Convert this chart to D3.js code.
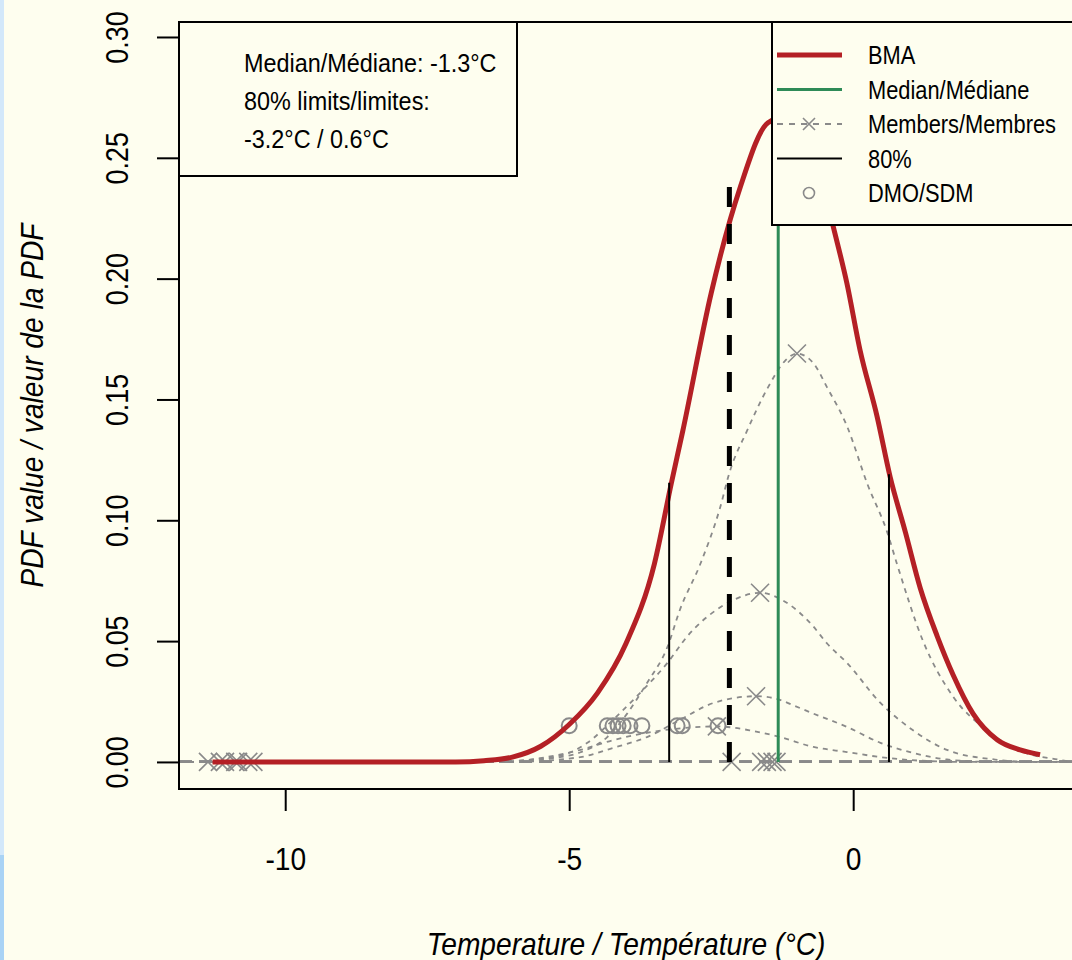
<!DOCTYPE html>
<html>
<head>
<meta charset="utf-8">
<script src="https://cdn.jsdelivr.net/npm/d3@7"></script>
<style>
  body { margin: 0; background: #fefeef; }
  svg { display: block; }
  text { font-family: "Liberation Sans", Arial, sans-serif; fill: #000; }
</style>
</head>
<body>
<svg width="1072" height="960"></svg>
<script>
// ---- data ----
var bmaCurve = [[-11.28,0],[-7,0],[-6.5,0.0005],[-6,0.002],[-5.5,0.0065],[-5,0.0155],[-4.5,0.0286],
  [-4,0.049],[-3.5,0.082],[-3.2,0.1155],[-3,0.137],[-2.5,0.194],[-2,0.237],[-1.5,0.2645],[-1.2,0.267],
  [-1.0,0.266],[-0.8,0.259],[-0.6,0.245],[-0.35,0.2214],[-0.11,0.198],[0.12,0.1705],[0.42,0.143],
  [0.65,0.118],[0.92,0.095],[1.18,0.072],[1.48,0.052],[1.76,0.036],[2.11,0.020],[2.54,0.0091],
  [2.94,0.005],[3.29,0.003]];

var memberA = [[-11.87,0],[-6,0],[-5.3,0.0015],[-4.8,0.004],[-4.33,0.0103],[-3.98,0.020],[-3.63,0.0327],
  [-3.27,0.0476],[-3.05,0.063],[-2.69,0.082],[-2.34,0.1055],[-2.18,0.1196],[-1.87,0.137],[-1.5,0.155],
  [-1.2,0.166],[-0.99,0.169],[-0.7,0.165],[-0.46,0.155],[-0.11,0.139],[0.25,0.115],[0.6,0.095],
  [0.77,0.082],[1.23,0.050],[1.76,0.027],[2.36,0.013],[3,0.004],[3.6,0.001],[3.87,0]];
var memberB = [[-11.87,0],[-6.5,0],[-5.28,0.002],[-4.68,0.0079],[-4.23,0.0174],[-3.75,0.0286],
  [-3.27,0.041],[-2.92,0.052],[-2.34,0.064],[-2.11,0.067],[-1.64,0.070],[-1.25,0.067],[-0.7,0.056],
  [-0.46,0.049],[-0.11,0.041],[0.48,0.0244],[1.06,0.013],[1.65,0.005],[2.5,0.001],[3.2,0],[3.87,0]];
var memberC = [[-11.87,0],[-6,0],[-4.8,0.002],[-4.23,0.0058],[-3.63,0.0103],[-3.05,0.0174],
  [-2.46,0.0244],[-1.71,0.0272],[-1.29,0.0257],[-1.06,0.0235],[-0.7,0.020],[-0.11,0.0145],
  [0.48,0.0079],[1.06,0.0037],[1.65,0.001],[2.5,0],[3.87,0]];
var memberD = [[-11.87,0],[-6.2,0],[-5.4,0.002],[-4.8,0.005],[-4.23,0.009],[-3.52,0.0125],
  [-2.9,0.0142],[-2.4,0.0147],[-1.8,0.013],[-1.29,0.0103],[-0.7,0.0062],[-0.11,0.0041],
  [0.48,0.002],[1.2,0.0005],[2,0],[3.87,0]];
var memberCurves = [memberA, memberB, memberC, memberD];
var memberPeaks = [[-0.99,0.169],[-1.64,0.070],[-1.71,0.0272],[-2.4,0.0147]];
var zeroMembers = [-11.36,-11.15,-11.06,-10.88,-10.83,-10.65,-10.56,-2.14,-1.62,-1.52,-1.42,-1.35];

var dmoValues = [-5.0,-4.33,-4.23,-4.14,-4.05,-3.93,-3.72,-3.1,-3.01,-2.38];
var dmoLevel = 0.015;

var medianValue = -1.32, medianTop = 0.265;
var limitLow = -3.24, limitLowTop = 0.1155;
var limitHigh = 0.63, limitHighTop = 0.119;
var obsValue = -2.18, obsTop = 0.242;

var xTicks = [-10, -5, 0];
var yTicks = [0, 0.05, 0.10, 0.15, 0.20, 0.25, 0.30];
var xDomain = [-11.87, 3.87];
var yDomain = [-0.0112, 0.3062];

var infoLines = ["Median/Médiane: -1.3°C", "80% limits/limites:", "-3.2°C / 0.6°C"];
var legendLabels = ["BMA", "Median/Médiane", "Members/Membres", "80%", "DMO/SDM"];
var xTitle = "Temperature / Température (°C)";
var yTitle = "PDF value / valeur de la PDF";

// ---- drawing ----
var svg = d3.select("svg"),
    pLeft = 179, pRight = 1073, pTop = 22, pBottom = 789,
    sx = 0.88;   // narrow glyphs like the original device font

var grey = "#8a8a8a", red = "#b42025", green = "#2e8b57";

svg.append("rect").attr("x", 0).attr("y", 0).attr("width", 1072).attr("height", 960).attr("fill", "#fefeef");
svg.append("rect").attr("x", 0).attr("y", 0).attr("width", 4).attr("height", 960).attr("fill", "#d3e8fa");
svg.append("rect").attr("x", 0).attr("y", 855).attr("width", 4).attr("height", 105).attr("fill", "#a9d3f5");

var x = d3.scaleLinear().domain(xDomain).range([pLeft, pRight]);
var y = d3.scaleLinear().domain(yDomain).range([pBottom, pTop]);

svg.append("defs").append("clipPath").attr("id", "plotclip")
    .append("rect").attr("x", pLeft).attr("y", pTop).attr("width", pRight - pLeft).attr("height", pBottom - pTop);

var plot = svg.append("g").attr("clip-path", "url(#plotclip)");

var line = d3.line()
    .x(function (d) { return x(d[0]); })
    .y(function (d) { return y(d[1]); })
    .curve(d3.curveMonotoneX);

// members with no weight: flat lines
plot.append("g").selectAll("line")
    .data(zeroMembers)
    .enter().append("line")
    .attr("x1", x(xDomain[0])).attr("x2", x(xDomain[1]))
    .attr("y1", y(0)).attr("y2", y(0))
    .attr("stroke", grey).attr("stroke-width", 2.2).attr("stroke-dasharray", "13,7");

plot.append("g").selectAll("path")
    .data(memberCurves)
    .enter().append("path")
    .attr("d", line)
    .attr("fill", "none")
    .attr("stroke", grey).attr("stroke-width", 1.8).attr("stroke-dasharray", "5,5");

var cross = "M-9,-9L9,9M-9,9L9,-9";
plot.append("g").selectAll("path")
    .data(memberPeaks.concat(zeroMembers.map(function (v) { return [v, 0]; })))
    .enter().append("path")
    .attr("d", cross)
    .attr("transform", function (d) { return "translate(" + x(d[0]) + "," + y(d[1]) + ")"; })
    .attr("stroke", grey).attr("stroke-width", 1.6).attr("fill", "none");

plot.append("g").selectAll("circle")
    .data(dmoValues)
    .enter().append("circle")
    .attr("cx", function (d) { return x(d); })
    .attr("cy", y(dmoLevel))
    .attr("r", 7.5)
    .attr("fill", "none").attr("stroke", grey).attr("stroke-width", 2);

plot.append("path")
    .datum(bmaCurve)
    .attr("d", line)
    .attr("fill", "none").attr("stroke", red).attr("stroke-width", 5);

var vlines = [
  {v: limitLow, top: limitLowTop, c: "#000", w: 2, dash: null},
  {v: limitHigh, top: limitHighTop, c: "#000", w: 2, dash: null},
  {v: medianValue, top: medianTop, c: green, w: 3, dash: null},
  {v: obsValue, top: obsTop, c: "#000", w: 5, dash: "20,17"}
];
plot.append("g").selectAll("line")
    .data(vlines)
    .enter().append("line")
    .attr("x1", function (d) { return x(d.v); }).attr("x2", function (d) { return x(d.v); })
    .attr("y1", y(0)).attr("y2", function (d) { return y(d.top); })
    .attr("stroke", function (d) { return d.c; })
    .attr("stroke-width", function (d) { return d.w; })
    .attr("stroke-dasharray", function (d) { return d.dash; });

// axes
var yAxis = svg.append("g").attr("transform", "translate(" + pLeft + ",0)")
    .call(d3.axisLeft(y).tickValues(yTicks).tickSize(22).tickFormat(d3.format(".2f")));
yAxis.select(".domain").remove();
yAxis.selectAll("line").attr("stroke", "#000").attr("stroke-width", 2);
yAxis.selectAll("text")
    .attr("x", null).attr("dy", null)
    .attr("transform", "translate(-51,0) rotate(-90) scale(0.84,1)")
    .attr("text-anchor", "middle")
    .style("font-size", "32px").style("font-family", null);

var xAxis = svg.append("g").attr("transform", "translate(0," + pBottom + ")")
    .call(d3.axisBottom(x).tickValues(xTicks).tickSize(22).tickFormat(function (d) { return String(d); }));
xAxis.select(".domain").remove();
xAxis.selectAll("line").attr("stroke", "#000").attr("stroke-width", 2);
xAxis.selectAll("text")
    .attr("y", null).attr("dy", null)
    .attr("transform", "translate(0,81) scale(" + sx + ",1)")
    .attr("text-anchor", "middle")
    .style("font-size", "32px").style("font-family", null);
svg.selectAll(".tick text").attr("fill", "#000");

svg.append("rect")
    .attr("x", pLeft).attr("y", pTop).attr("width", pRight - pLeft).attr("height", pBottom - pTop)
    .attr("fill", "none").attr("stroke", "#000").attr("stroke-width", 2);

svg.append("text")
    .attr("transform", "translate(" + (pLeft + pRight) / 2 + ",955) scale(" + sx + ",1)")
    .attr("text-anchor", "middle").style("font-size", "32px").style("font-style", "italic")
    .attr("fill", "#333").text(xTitle);
svg.append("text")
    .attr("transform", "translate(43," + (pTop + pBottom) / 2 + ") rotate(-90) scale(" + sx + ",1)")
    .attr("text-anchor", "middle").style("font-size", "32px").style("font-style", "italic")
    .attr("fill", "#333").text(yTitle);

// info box, top left
svg.append("rect")
    .attr("x", pLeft).attr("y", pTop).attr("width", 517 - pLeft).attr("height", 176 - pTop)
    .attr("fill", "#fefeef").attr("stroke", "#000").attr("stroke-width", 2);
svg.append("g").selectAll("text")
    .data(infoLines)
    .enter().append("text")
    .attr("transform", function (d, i) { return "translate(244," + (72 + i * 38) + ") scale(0.9,1)"; })
    .style("font-size", "26px")
    .text(function (d) { return d; });

// legend, top right
var leg = svg.append("g");
leg.append("rect")
    .attr("x", 772).attr("y", pTop).attr("width", pRight - 772 + 10).attr("height", 225 - pTop)
    .attr("fill", "#fefeef").attr("stroke", "#000").attr("stroke-width", 2);
var legY = d3.scalePoint().domain(legendLabels).range([55, 193]);
var legStyles = [
  {c: red, w: 5, dash: null},
  {c: green, w: 3, dash: null},
  {c: grey, w: 1.8, dash: "6,6"},
  {c: "#000", w: 2, dash: null},
  null
];
leg.selectAll("line.k")
    .data(legendLabels.filter(function (d, i) { return legStyles[i]; }))
    .enter().append("line")
    .attr("x1", 777).attr("x2", 842)
    .attr("y1", function (d) { return legY(d); }).attr("y2", function (d) { return legY(d); })
    .attr("stroke", function (d) { return legStyles[legendLabels.indexOf(d)].c; })
    .attr("stroke-width", function (d) { return legStyles[legendLabels.indexOf(d)].w; })
    .attr("stroke-dasharray", function (d) { return legStyles[legendLabels.indexOf(d)].dash; });
leg.append("path")
    .attr("d", "M-6,-6L6,6M-6,6L6,-6")
    .attr("transform", "translate(809," + legY(legendLabels[2]) + ")")
    .attr("stroke", grey).attr("stroke-width", 1.6);
leg.append("circle")
    .attr("cx", 809).attr("cy", legY(legendLabels[4])).attr("r", 5.5)
    .attr("fill", "none").attr("stroke", grey).attr("stroke-width", 1.6);
leg.selectAll("text")
    .data(legendLabels)
    .enter().append("text")
    .attr("transform", function (d) { return "translate(868," + (legY(d) + 9) + ") scale(0.84,1)"; })
    .style("font-size", "26px")
    .text(function (d) { return d; });
</script>
</body>
</html>
